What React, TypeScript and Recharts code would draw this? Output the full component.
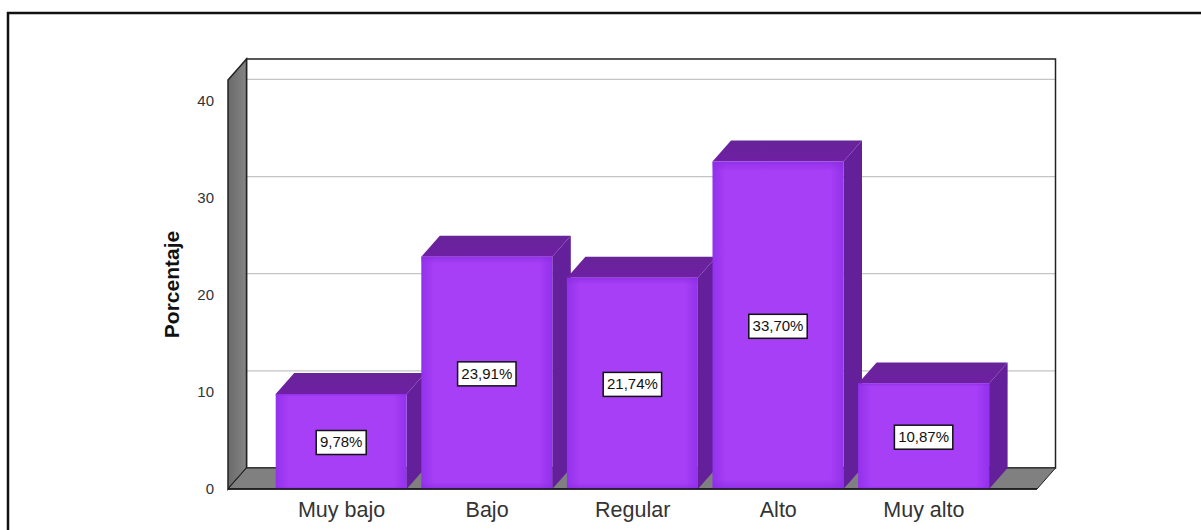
import React from "react";
import { ComposedChart, Bar, XAxis, YAxis, CartesianGrid, LabelList, Customized, usePlotArea } from "recharts";

const categories = ["Muy bajo", "Bajo", "Regular", "Alto", "Muy alto"];
const percentages = [9.78, 23.91, 21.74, 33.7, 10.87];
const yTicks = [0, 10, 20, 30, 40];
const rows = categories.map((name, i) => ({ name, value: percentages[i] }));

const DX = 18.5;
const DY = 21;
const FONT = "'Liberation Sans', Arial, sans-serif";

function Walls() {
  const p = usePlotArea();
  if (!p) return null;
  const l = p.x, r = p.x + p.width, t = p.y, b = p.y + p.height;
  return (
    <g>
      <defs>
        <linearGradient id="wall" x1="0" y1="0" x2="1" y2="0">
          <stop offset="0%" stopColor="#6a6a6a" />
          <stop offset="100%" stopColor="#858585" />
        </linearGradient>
        <linearGradient id="faceH" x1="0" y1="0" x2="1" y2="0">
          <stop offset="0%" stopColor="#9231ec" />
          <stop offset="10%" stopColor="#a73ff6" />
          <stop offset="90%" stopColor="#a73ff6" />
          <stop offset="100%" stopColor="#9231ec" />
        </linearGradient>
        <linearGradient id="faceV" x1="0" y1="0" x2="0" y2="1">
          <stop offset="0%" stopColor="#8a2be2" stopOpacity={0.7} />
          <stop offset="3%" stopColor="#8a2be2" stopOpacity={0} />
          <stop offset="97%" stopColor="#8a2be2" stopOpacity={0} />
          <stop offset="100%" stopColor="#8a2be2" stopOpacity={0.7} />
        </linearGradient>
        <linearGradient id="topFace" x1="0" y1="0" x2="0" y2="1">
          <stop offset="0%" stopColor="#672499" />
          <stop offset="100%" stopColor="#6f1fa3" />
        </linearGradient>
      </defs>
      <path d="M8 530 V13 H1201" fill="none" stroke="#111" strokeWidth={2.5} />
      <rect x={l + DX} y={t - DY} width={r - l} height={b - t} fill="none" stroke="#222" strokeWidth={1.5} />
      <polygon
        points={`${l},${t} ${l + DX},${t - DY} ${l + DX},${b - DY} ${l},${b}`}
        fill="url(#wall)"
        stroke="#222"
        strokeWidth={1.5}
      />
      <polygon
        points={`${l},${b} ${l + DX},${b - DY} ${r + DX},${b - DY} ${r},${b}`}
        fill="#808080"
        stroke="#222"
        strokeWidth={1}
      />
    </g>
  );
}

function backGridLine(props: any) {
  const { x1, x2, y1, y2, index } = props;
  if (y1 == null) return null;
  return (
    <line
      key={index}
      x1={x1 + DX}
      x2={x2 + DX}
      y1={y1 - DY}
      y2={y2 - DY}
      stroke="#c4c4c4"
      strokeWidth={1.2}
    />
  );
}

function Box3D(props: any) {
  const { x, y, width, height } = props;
  const r = x + width;
  const b = y + height;
  return (
    <g>
      <polygon points={`${r},${y} ${r + DX},${y - DY} ${r + DX},${b - DY} ${r},${b}`} fill="#64209b" />
      <polygon points={`${x},${y} ${x + DX},${y - DY} ${r + DX},${y - DY} ${r},${y}`} fill="url(#topFace)" />
      <rect x={x} y={y} width={width} height={height} fill="url(#faceH)" />
      <rect x={x} y={y} width={width} height={height} fill="url(#faceV)" />
    </g>
  );
}

function ValueTag(props: any) {
  const { x, y, width, height, value } = props;
  const text = `${Number(value).toFixed(2).replace(".", ",")}%`;
  const boxW = text.length * 8.4 + 8;
  const boxH = 24;
  const cx = x + width / 2;
  const cy = y + height / 2 + 1;
  return (
    <g>
      <rect x={cx - boxW / 2} y={cy - boxH / 2} width={boxW} height={boxH} fill="#ffffff" stroke="#111" strokeWidth={1.5} />
      <text x={cx} y={cy + 5} textAnchor="middle" fontFamily={FONT} fontSize={15} fill="#111">
        {text}
      </text>
    </g>
  );
}

export default function App() {
  return (
    <div style={{ position: "absolute", left: 0, top: 0, width: 1201, height: 530, background: "#fff" }}>
      <ComposedChart
        width={1201}
        height={530}
        data={rows}
        margin={{ top: 80, right: 164, bottom: 0, left: 0 }}
      >
        <Customized component={Walls} />
        <CartesianGrid vertical={false} horizontal={backGridLine} syncWithTicks />
        <XAxis
          dataKey="name"
          height={41}
          interval={0}
          padding={{ left: 40.7, right: 40.3 }}
          axisLine={{ stroke: "#111", strokeWidth: 1.5 }}
          tickLine={false}
          tickMargin={7}
          tick={{ fontFamily: FONT, fontSize: 21.5, fill: "#333" }}
        />
        <YAxis
          width={228}
          domain={[0, 42.1]}
          ticks={yTicks}
          allowDataOverflow
          axisLine={false}
          tickLine={false}
          tickMargin={8}
          tick={{ fontFamily: FONT, fontSize: 15, fill: "#333" }}
          label={{
            value: "Porcentaje",
            angle: -90,
            position: "center",
            dx: 58,
            fontFamily: FONT,
            fontWeight: 700,
            fontSize: 21,
            fill: "#111",
          }}
        />
        <Bar dataKey="value" barSize={131} shape={<Box3D />} isAnimationActive={false}>
          <LabelList dataKey="value" content={<ValueTag />} />
        </Bar>
      </ComposedChart>
    </div>
  );
}
